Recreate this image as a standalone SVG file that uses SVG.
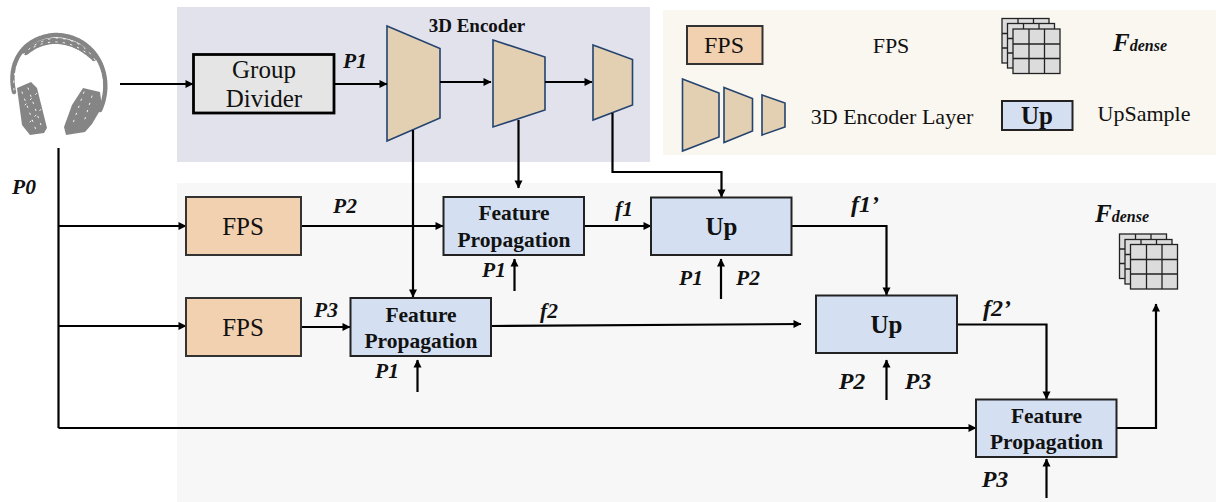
<svg xmlns="http://www.w3.org/2000/svg" width="1216" height="502" viewBox="0 0 1216 502">
<style>
text{font-family:"Liberation Serif","Times New Roman",serif;fill:#111;text-anchor:middle}
.n{font-size:25px}
.l{font-size:22px}
.b{font-size:21.500px;font-weight:bold}
.u{font-size:25px;font-weight:bold}
.i{font-size:21.500px;font-weight:bold;font-style:italic}
.j{font-size:24px;font-weight:bold;font-style:italic}
.fd{font-size:25px;font-weight:bold;font-style:italic;text-anchor:start}
.fd tspan{font-size:16px}
.fps{fill:#f2d1b0;stroke:#333;stroke-width:2}
.blue{fill:#d4e0f2;stroke:#222;stroke-width:2}
.enc{fill:#e3d0b3;stroke:#24436e;stroke-width:1.600}
.c{fill:none;stroke:#000;stroke-width:2.200}
.g{fill:#dcdcdc;stroke:#222;stroke-width:1.300}
.hp{fill:none;stroke:#858585;stroke-linecap:round}
.sp{fill:none;stroke:#fff;stroke-width:.9;stroke-dasharray:1.500 6;stroke-linecap:round}
</style>
<defs>
<marker id="a" markerUnits="userSpaceOnUse" markerWidth="10" markerHeight="10" refX="8.500" refY="5" orient="auto"><path d="M1 1L9 5L1 9Z" fill="#000"/></marker>
<g id="sheet"><rect class="g" x="0" y="0" width="47" height="44.500"/><path class="g" d="M16 0V44.500M31.500 0V44.500M0 15H47M0 29.500H47"/></g>
</defs>
<rect x="177" y="7" width="473" height="155" fill="#e1e2ec"/>
<rect x="177" y="183" width="1039" height="319" fill="#f7f7f7"/>
<rect x="663" y="10" width="553" height="145" fill="#faf7f1"/>

<g id="headphones">
<path class="hp" stroke-width="4.500" stroke-dasharray="1.500 1" d="M14 92C7 62 24 37 55 35C86 35 108 60 105 92C104 100 102 106 100 110"/>
<path class="hp" stroke-width="6" stroke-dasharray="1.500 1" d="M26 52C45 36 72 37 94 58"/>
<path class="sp" d="M14 90C11 62 28 42 55 38C80 38 100 56 103 84"/>
<path class="sp" d="M34 47C50 39 70 40 88 54"/>
<path fill="#858585" d="M17 88L31 82L37 88L47 128L44 133L30 135L22 125Z"/>
<path fill="#858585" d="M83 88L100 92L102 107L92 124L85 132L66 135L64 127L72 105Z"/>
<path class="sp" d="M22 92L36 130M28 88L42 128M25 105L38 92M30 122L42 108"/>
<path class="sp" d="M84 92L72 126M92 96L84 122"/>
</g>

<g id="group-divider"><rect x="193.500" y="54.500" width="140.500" height="58.500" fill="#e5e5e5" stroke="#000" stroke-width="2.800"/><text class="n" x="264" y="78">Group</text><text class="n" x="264" y="107">Divider</text></g>
<g id="encoder-1"><path class="enc" d="M387 26L440 48.500V118L387 141Z"/></g>
<g id="encoder-2"><path class="enc" d="M493 40L545 57V110L493 127Z"/></g>
<g id="encoder-3"><path class="enc" d="M593 45L632.500 59.500V105L593 120Z"/></g>
<text id="encoder-label" x="477" y="31.500" style="font-size:19px;font-weight:bold">3D Encoder</text>

<g id="connectors">
<path class="c" marker-end="url(#a)" d="M120 84H193"/>
<path class="c" marker-end="url(#a)" d="M335 84H387"/>
<path class="c" marker-end="url(#a)" d="M440 82H491"/>
<path class="c" marker-end="url(#a)" d="M545 82H592"/>
<path class="c" d="M58.500 148V428"/>
<path class="c" marker-end="url(#a)" d="M58.500 226H186"/>
<path class="c" marker-end="url(#a)" d="M58.500 326H186"/>
<path class="c" marker-end="url(#a)" d="M58.500 428H976"/>
<path class="c" marker-end="url(#a)" d="M302 226H443"/>
<path class="c" marker-end="url(#a)" d="M302 327H350"/>
<path class="c" marker-end="url(#a)" d="M413 130V297"/>
<path class="c" marker-end="url(#a)" d="M518.500 120V188"/>
<path class="c" marker-end="url(#a)" d="M612.500 113V172H721.500V197"/>
<path class="c" marker-end="url(#a)" d="M584 226H651"/>
<path class="c" marker-end="url(#a)" d="M791 226H886.500V295"/>
<path class="c" marker-end="url(#a)" d="M491 326L801 324"/>
<path class="c" marker-end="url(#a)" d="M957 324.500H1046.500V399"/>
<path class="c" marker-end="url(#a)" d="M1116 428H1156V304"/>
<path class="c" marker-end="url(#a)" d="M514.500 291V259"/>
<path class="c" marker-end="url(#a)" d="M417.500 392V360"/>
<path class="c" marker-end="url(#a)" d="M721 299V259"/>
<path class="c" marker-end="url(#a)" d="M886.500 400V360"/>
<path class="c" marker-end="url(#a)" d="M1046.500 498V459"/>
</g>

<g id="fps-1"><rect class="fps" x="186" y="197" width="115" height="58"/><text class="n" x="243" y="235">FPS</text></g>
<g id="fps-2"><rect class="fps" x="186" y="298" width="115" height="58"/><text class="n" x="243" y="336">FPS</text></g>
<g id="fp-1"><rect class="blue" x="443.500" y="197" width="140.500" height="58"/><text class="b" x="514" y="220">Feature</text><text class="b" x="514" y="247">Propagation</text></g>
<g id="fp-2"><rect class="blue" x="350.500" y="298" width="140.500" height="58"/><text class="b" x="421" y="322">Feature</text><text class="b" x="421" y="348">Propagation</text></g>
<g id="fp-3"><rect class="blue" x="976" y="399.500" width="140.500" height="57.500"/><text class="b" x="1046.500" y="423">Feature</text><text class="b" x="1046.500" y="449">Propagation</text></g>
<g id="up-1"><rect class="blue" x="651" y="197.500" width="140.500" height="57.500"/><text class="u" x="721.500" y="235">Up</text></g>
<g id="up-2"><rect class="blue" x="816" y="295.500" width="141" height="57.500"/><text class="u" x="886.500" y="333">Up</text></g>

<g id="labels">
<text class="i" x="24" y="194">P0</text>
<text class="i" x="355" y="68">P1</text>
<text class="i" x="345" y="213">P2</text>
<text class="i" x="326" y="317">P3</text>
<text class="i" x="494" y="277">P1</text>
<text class="i" x="387" y="378">P1</text>
<text class="i" x="691" y="285">P1</text>
<text class="i" x="748" y="285">P2</text>
<text class="j" x="852" y="389">P2</text>
<text class="j" x="918" y="389">P3</text>
<text class="j" x="995" y="487">P3</text>
<text class="i" x="624" y="216">f1</text>
<text class="i" x="549" y="318">f2</text>
<text class="j" x="865" y="212">f1’</text>
<text class="j" x="997" y="316">f2’</text>
<text class="fd" x="1095" y="222">F<tspan>dense</tspan></text>
</g>

<g id="fdense-out"><use href="#sheet" x="1119.500" y="234"/><use href="#sheet" x="1125" y="239.500"/><use href="#sheet" x="1130.500" y="244.500"/></g>

<g id="legend">
<rect class="fps" x="687" y="26" width="75.500" height="38"/><text x="724" y="53" style="font-size:24px">FPS</text>
<text class="l" x="891" y="53">FPS</text>
<path class="enc" d="M682.500 79L719 93V137L682.500 151Z"/>
<path class="enc" d="M724 87.500L752.500 98.500V131L724 142.500Z"/>
<path class="enc" d="M762 95L785 103V127L762 135Z"/>
<text class="l" x="892" y="124">3D Encoder Layer</text>
<use href="#sheet" x="1002" y="18.500"/><use href="#sheet" x="1007.500" y="23.500"/><use href="#sheet" x="1013" y="29"/>
<text class="fd" x="1113" y="51">F<tspan>dense</tspan></text>
<rect class="blue" x="1002" y="101" width="70.500" height="29"/><text class="u" x="1037" y="124">Up</text>
<text class="l" x="1144" y="121">UpSample</text>
</g>
</svg>
